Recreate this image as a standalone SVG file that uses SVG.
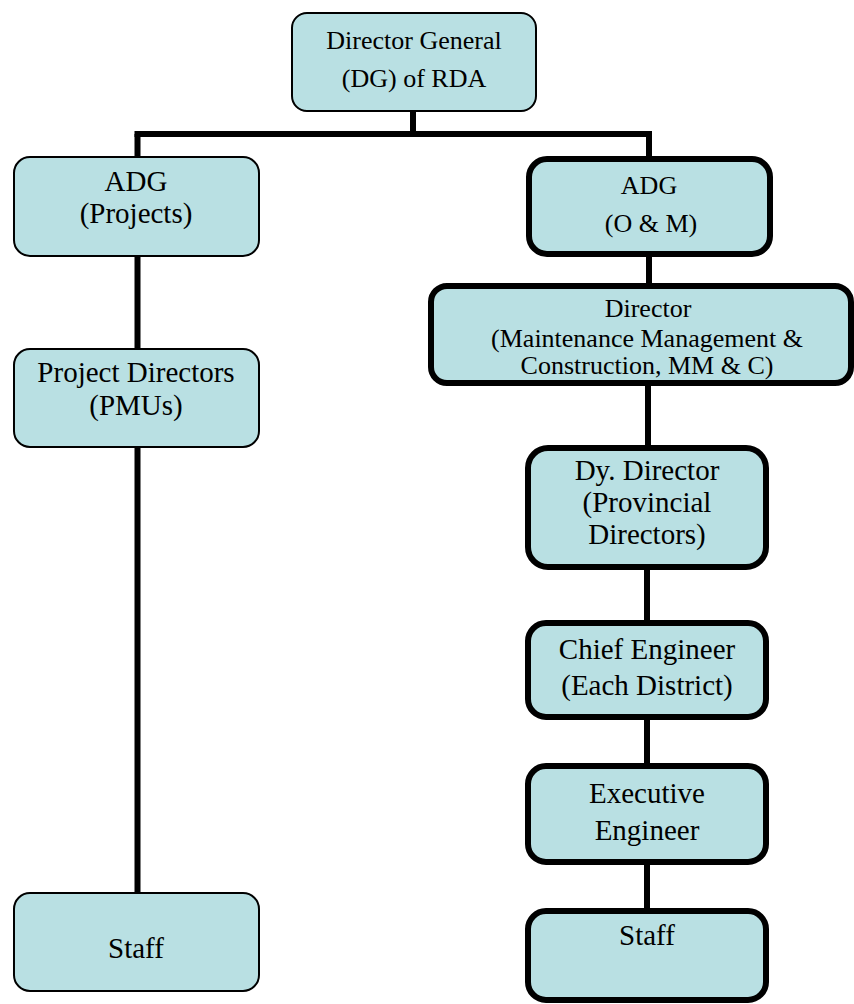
<svg xmlns="http://www.w3.org/2000/svg" width="854" height="1004" viewBox="0 0 854 1004">
<style>
.box{fill:#b9e0e3;stroke:#000}
.thin{stroke-width:2}
.thick{stroke-width:6}
text{font-family:"Liberation Serif","Times New Roman",serif;fill:#000;text-anchor:middle}
.s26{font-size:26px}
.s29{font-size:29px}
.con{stroke:#000;stroke-width:6;fill:none}
</style>
<rect width="854" height="1004" fill="#fff"/>
<g id="connectors">
<path class="con" d="M413,111 V134"/>
<path class="con" d="M134.5,134 H652"/>
<path class="con" d="M137.5,134 V893"/>
<path class="con" d="M649,134 V159"/>
<path class="con" d="M649,254 V286"/>
<path class="con" d="M648,386 V448"/>
<path class="con" d="M647,567 V623"/>
<path class="con" d="M647,717 V766"/>
<path class="con" d="M647,862 V911"/>
</g>
<g id="dg">
<rect class="box thin" x="292" y="13" width="244" height="98" rx="15"/>
<text class="s26" x="414" y="49">Director General</text>
<text class="s26" x="414" y="87">(DG) of RDA</text>
</g>
<g id="adg-projects">
<rect class="box thin" x="14" y="157" width="245" height="99" rx="16"/>
<text class="s29" x="136" y="191">ADG</text>
<text class="s29" x="136" y="223">(Projects)</text>
</g>
<g id="project-directors">
<rect class="box thin" x="14" y="349" width="245" height="98" rx="16"/>
<text class="s29" x="136" y="382">Project Directors</text>
<text class="s29" x="136" y="415">(PMUs)</text>
</g>
<g id="staff-left">
<rect class="box thin" x="14" y="893" width="245" height="98" rx="16"/>
<text class="s29" x="136" y="958">Staff</text>
</g>
<g id="adg-om">
<rect class="box thick" x="529" y="159" width="241" height="95" rx="18"/>
<text class="s26" x="649" y="194">ADG</text>
<text class="s26" x="651" y="232">(O &amp; M)</text>
</g>
<g id="director-mmc">
<rect class="box thick" x="431" y="286" width="420" height="97" rx="16"/>
<text class="s26" x="648" y="317">Director</text>
<text class="s26" x="647" y="347">(Maintenance Management &amp;</text>
<text class="s26" x="647" y="374">Construction, MM &amp; C)</text>
</g>
<g id="dy-director">
<rect class="box thick" x="528" y="448" width="238" height="119" rx="20"/>
<text class="s29" x="647" y="480">Dy. Director</text>
<text class="s29" x="647" y="512">(Provincial</text>
<text class="s29" x="647" y="544">Directors)</text>
</g>
<g id="chief-engineer">
<rect class="box thick" x="528" y="623" width="238" height="94" rx="18"/>
<text class="s29" x="647" y="659">Chief Engineer</text>
<text class="s29" x="647" y="695">(Each District)</text>
</g>
<g id="executive-engineer">
<rect class="box thick" x="528" y="766" width="238" height="96" rx="18"/>
<text class="s29" x="647" y="803">Executive</text>
<text class="s29" x="647" y="840">Engineer</text>
</g>
<g id="staff-right">
<rect class="box thick" x="528" y="911" width="238" height="89" rx="18"/>
<text class="s29" x="647" y="945">Staff</text>
</g>
</svg>
